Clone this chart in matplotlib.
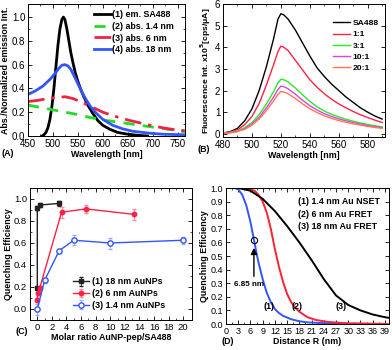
import matplotlib
matplotlib.use("Agg")
import matplotlib.pyplot as plt
from matplotlib import font_manager
import numpy as np

_names = {f.name for f in font_manager.fontManager.ttflist}
NARROW = 'Liberation Sans Narrow' in _names
plt.rcParams['font.family'] = ['Liberation Sans', 'DejaVu Sans']
LABEL_FAMILY = ['Liberation Sans Narrow', 'Liberation Sans', 'DejaVu Sans'] if NARROW else ['Liberation Sans', 'DejaVu Sans']
LS = 8.0 if NARROW else 6.4   # label font size

# ---------------- Panel A data ----------------
a_em_wl = [478, 482, 486, 490, 494, 498, 502, 506, 510, 514, 518, 521, 524, 528, 532, 536, 540, 545, 550, 556, 562, 570, 580, 590, 600, 615, 630, 650, 670, 690]
a_em = [0.0, 0.01, 0.03, 0.07, 0.14, 0.25, 0.4, 0.58, 0.76, 0.9, 0.98, 1.0, 0.98, 0.9, 0.8, 0.7, 0.62, 0.53, 0.46, 0.39, 0.33, 0.26, 0.19, 0.13, 0.09, 0.055, 0.03, 0.015, 0.006, 0.0]
a_g_wl = [450, 475, 500, 525, 550, 575, 600, 625, 650, 675, 700, 725, 750, 765]
a_g = [0.26, 0.24, 0.22, 0.2, 0.18, 0.155, 0.135, 0.12, 0.105, 0.09, 0.075, 0.06, 0.045, 0.035]
a_r_wl = [450, 470, 490, 510, 525, 540, 555, 570, 585, 600, 625, 650, 675, 700, 725, 750, 765]
a_r = [0.29, 0.3, 0.315, 0.325, 0.33, 0.315, 0.29, 0.26, 0.23, 0.2, 0.165, 0.135, 0.11, 0.085, 0.065, 0.05, 0.045]
a_b_wl = [450, 465, 480, 495, 505, 512, 518, 524, 530, 536, 542, 550, 558, 566, 575, 585, 600, 620, 640, 660, 690, 720, 765]
a_b = [0.35, 0.38, 0.42, 0.48, 0.53, 0.57, 0.595, 0.6, 0.59, 0.56, 0.51, 0.44, 0.37, 0.31, 0.25, 0.2, 0.14, 0.09, 0.06, 0.04, 0.025, 0.015, 0.01]
a_labels = ['(1) em. SA488', '(2) abs. 1.4 nm', '(3) abs. 6 nm', '(4) abs. 18 nm']

# ---------------- Panel B data ----------------
b_wl = [480, 485, 490, 495, 500, 505, 510, 515, 518, 520, 522, 525, 530, 535, 540, 545, 550, 555, 560, 565, 570, 575, 580, 585, 590]
b_sa = [0.03, 0.1, 0.25, 0.6, 1.15, 2.0, 3.1, 4.4, 5.3, 5.55, 5.5, 5.3, 4.8, 4.2, 3.6, 3.05, 2.65, 2.3, 2.0, 1.7, 1.45, 1.2, 1.0, 0.82, 0.68]
b_11 = [0.02, 0.08, 0.18, 0.42, 0.8, 1.4, 2.25, 3.2, 3.8, 4.05, 4.0, 3.85, 3.4, 2.95, 2.5, 2.15, 1.85, 1.6, 1.38, 1.2, 1.03, 0.88, 0.75, 0.63, 0.52]
b_31 = [0.02, 0.06, 0.13, 0.28, 0.52, 0.88, 1.38, 1.95, 2.35, 2.52, 2.5, 2.4, 2.12, 1.8, 1.5, 1.25, 1.05, 0.9, 0.78, 0.67, 0.58, 0.5, 0.43, 0.37, 0.32]
b_101 = [0.02, 0.05, 0.11, 0.24, 0.45, 0.76, 1.2, 1.7, 2.05, 2.2, 2.18, 2.08, 1.83, 1.55, 1.3, 1.1, 0.93, 0.8, 0.69, 0.6, 0.52, 0.45, 0.38, 0.33, 0.28]
b_201 = [0.01, 0.04, 0.1, 0.21, 0.4, 0.68, 1.07, 1.52, 1.82, 1.95, 1.93, 1.85, 1.63, 1.38, 1.16, 0.98, 0.83, 0.71, 0.61, 0.53, 0.46, 0.4, 0.34, 0.29, 0.25]
b_labels = ['SA488', '1:1', '3:1', '10:1', '20:1']

# ---------------- Panel C data ----------------
c1_x = [0, 0, 0.33, 3.0]
c1_y = [0.19, 0.92, 0.945, 0.96]
c1_e = [0.01, 0.02, 0.02, 0.02]
c2_x = [0, 0.07, 0.33, 3.33, 6.67, 13.3]
c2_y = [0.08, 0.15, 0.19, 0.88, 0.91, 0.86]
c2_e = [0.02, 0.02, 0.02, 0.05, 0.04, 0.05]
c3_x = [0, 1, 3, 5, 10, 20]
c3_y = [0.0, 0.26, 0.53, 0.625, 0.60, 0.625]
c3_e = [0.05, 0.02, 0.02, 0.045, 0.05, 0.03]
c_labels = ['(1) 18 nm AuNPs', '(2) 6 nm AuNPs', '(3) 1.4 nm AuNPs']

# ---------------- Panel D data ----------------
d1_r = [0, 2, 3, 4, 5, 6, 6.85, 7.5, 8, 9, 10, 11, 12, 13, 14, 16, 18, 20, 24, 30, 40]
d1_e = [1.0, 1.0, 0.99, 0.95, 0.87, 0.75, 0.62, 0.52, 0.45, 0.33, 0.23, 0.16, 0.11, 0.08, 0.06, 0.035, 0.02, 0.012, 0.006, 0.002, 0.0]
d2_r = [0, 4, 6, 7, 8, 9, 10, 11, 12, 13, 14, 15, 16, 17, 18, 20, 22, 25, 30, 40]
d2_e = [1.0, 1.0, 0.99, 0.98, 0.95, 0.9, 0.82, 0.7, 0.55, 0.42, 0.31, 0.22, 0.16, 0.12, 0.09, 0.05, 0.03, 0.015, 0.005, 0.0]
d3_r = [0, 3, 6, 9, 12, 15, 18, 21, 24, 27, 30, 33, 36, 39, 40]
d3_e = [1.0, 1.0, 0.98, 0.92, 0.83, 0.72, 0.6, 0.47, 0.33, 0.21, 0.14, 0.1, 0.07, 0.05, 0.045]
d_text = ['(1) 1.4 nm Au NSET', '(2) 6 nm Au FRET', '(3) 18 nm Au FRET']
d_point = (6.85, 0.62)

W, H = 392, 350
fig = plt.figure(figsize=(W / 100, H / 100), dpi=100)


def ax_px(l, t, r, b):
    return fig.add_axes([l / W, 1 - b / H, (r - l) / W, (b - t) / H])


def style(ax, fs=6.8):
    ax.tick_params(direction='in', which='both', top=True, right=True, labelsize=fs, pad=2)
    ax.tick_params(which='major', length=3, width=0.6)
    ax.tick_params(which='minor', length=1.5, width=0.5)
    for s in ax.spines.values():
        s.set_linewidth(0.7)


BOLD = dict(fontweight='bold', family=LABEL_FAMILY)
LPROP = dict(weight='bold', size=LS, family=LABEL_FAMILY)

# ---- A ----
axA = ax_px(28, 4, 185, 136)
axA.plot(a_em_wl, a_em, color='black', lw=2.0, label=a_labels[0])
axA.plot(a_g_wl, a_g, color='#22dd22', lw=2.0, ls=(0, (4, 3)), label=a_labels[1])
axA.plot(a_r_wl, a_r, color='#ee2244', lw=2.0, ls=(0, (6, 2.5, 1.2, 2.5)), label=a_labels[2])
axA.plot(a_b_wl, a_b, color='#3355ff', lw=2.0, label=a_labels[3])
axA.set_xlim(450, 765)
axA.set_ylim(0, 1.11)
axA.set_xticks([450, 500, 550, 600, 650, 700, 750])
axA.set_xticks(np.arange(475, 765, 50), minor=True)
axA.set_yticks([0.0, 0.2, 0.4, 0.6, 0.8, 1.0])
axA.set_yticks(np.arange(0.1, 1.1, 0.2), minor=True)
axA.yaxis.set_major_formatter(matplotlib.ticker.FormatStrFormatter('%.1f'))
style(axA, 7)
axA.set_xlabel('Wavelength [nm]', fontsize=LS, labelpad=1, **BOLD)
axA.set_ylabel('Abs./Normalized emission Int.', fontsize=LS, labelpad=1, **BOLD)
axA.legend(loc='upper right', bbox_to_anchor=(0.97, 1.0), frameon=False,
           prop=LPROP, handlelength=1.9, handletextpad=0.15,
           labelspacing=0.3, borderaxespad=0.3)
fig.text(2 / W, 1 - 154 / H, '(A)', fontsize=LS, va='center', **BOLD)

# ---- B ----
axB = ax_px(223, 4, 385, 137)
b_cols = ['black', '#ff2244', '#22ee22', '#dd44dd', '#ff7755']
for ys, c, lab in zip([b_sa, b_11, b_31, b_101, b_201], b_cols, b_labels):
    axB.plot(b_wl, ys, color=c, lw=1.0, label=lab)
axB.set_xlim(480, 592)
axB.set_ylim(-0.15, 6)
axB.set_xticks([480, 500, 520, 540, 560, 580])
axB.set_xticks(np.arange(490, 592, 20), minor=True)
axB.set_yticks([0, 1, 2, 3, 4, 5, 6])
style(axB, 7)
axB.set_xlabel('Wavelength [nm]', fontsize=LS, labelpad=1, **BOLD)
axB.set_ylabel('Fluorescence Int. x10$^\\mathbf{5}$[cps/\u03bcA]', fontsize=LS - 0.3, labelpad=1, **BOLD)
axB.legend(loc='upper right', bbox_to_anchor=(1.0, 0.93), frameon=False,
           prop=dict(weight='bold', size=LS - 0.3, family=LABEL_FAMILY), handlelength=2.0, handletextpad=0.4,
           labelspacing=0.4, borderaxespad=0.3)
fig.text(198 / W, 1 - 150 / H, '(B)', fontsize=LS, va='center', **BOLD)

# ---- C ----
axC = ax_px(30, 188, 192, 320)
axC.errorbar(c1_x, c1_y, yerr=c1_e, color='#222222', marker='s', ms=3, lw=1.0,
             capsize=1.5, elinewidth=0.6, label=c_labels[0])
axC.errorbar(c2_x, c2_y, yerr=c2_e, color='#ff2244', marker='o', ms=3.2, lw=1.0,
             capsize=1.5, elinewidth=0.6, ecolor='#ff8899', label=c_labels[1])
axC.errorbar(c3_x, c3_y, yerr=c3_e, color='#3355ff', marker='o', ms=3.8, lw=1.0,
             mfc='white', capsize=1.5, elinewidth=0.6, ecolor='#99aaff', label=c_labels[2])
axC.set_xlim(-1, 21.2)
axC.set_ylim(-0.1, 1.1)
axC.set_xticks(np.arange(0, 21, 2))
axC.set_xticks(np.arange(1, 21, 2), minor=True)
axC.set_yticks([0.0, 0.2, 0.4, 0.6, 0.8, 1.0])
axC.set_yticks(np.arange(0.1, 1.1, 0.2), minor=True)
axC.yaxis.set_major_formatter(matplotlib.ticker.FormatStrFormatter('%.1f'))
style(axC, 6.8)
axC.set_xlabel('Molar ratio AuNP-pep/SA488', fontsize=LS, labelpad=1, **BOLD)
axC.set_ylabel('Quenching Efficiency', fontsize=LS, labelpad=1, **BOLD)
axC.legend(loc='lower left', bbox_to_anchor=(0.23, 0.03), frameon=False,
           prop=LPROP, handlelength=1.8, handletextpad=0.3,
           labelspacing=0.3, borderaxespad=0.3)
fig.text(16 / W, 1 - 332 / H, '(C)', fontsize=LS, va='center', **BOLD)

# ---- D ----
axD = ax_px(226, 188, 389, 324)
axD.plot(d1_r, d1_e, color='#3355ff', lw=1.4)
axD.plot(d2_r, d2_e, color='#ff2233', lw=1.4)
axD.plot(d3_r, d3_e, color='black', lw=1.4)
axD.plot([d_point[0]], [d_point[1]], marker='o', ms=4.5, mfc='none', mec='black', mew=0.8)
axD.annotate('', xy=(d_point[0], d_point[1] - 0.04), xytext=(d_point[0], 0.33),
             arrowprops=dict(arrowstyle='-|>', color='black', lw=1.0, mutation_scale=9))
axD.text(d_point[0] - 1.3, 0.29, '%.2f nm' % d_point[0], fontsize=LS - 0.6, ha='center', va='center', **BOLD)
axD.set_xlim(0, 40)
axD.set_ylim(0, 1.0)
axD.set_xticks(np.arange(0, 40, 3))
axD.set_xticks(np.arange(1.5, 40, 3), minor=True)
axD.set_yticks(np.arange(0, 1.01, 0.1))
axD.yaxis.set_major_formatter(matplotlib.ticker.FormatStrFormatter('%.1f'))
style(axD, 6.5)
axD.set_xlabel('Distance R (nm)', fontsize=LS, labelpad=1, **BOLD)
axD.set_ylabel('Quenching Efficiency', fontsize=LS, labelpad=1, **BOLD)
for i, t in enumerate(d_text):
    axD.text(0.44, 0.9 - i * 0.093, t, transform=axD.transAxes, fontsize=LS, va='center', **BOLD)
for lab, xr in zip(['(1)', '(2)', '(3)'], [10.5, 17.5, 28.2]):
    axD.text(xr, 0.13, lab, fontsize=LS, ha='center', va='center', **BOLD)
fig.text(222 / W, 1 - 341 / H, '(D)', fontsize=LS, va='center', **BOLD)

fig.savefig('out.png', dpi=100)
